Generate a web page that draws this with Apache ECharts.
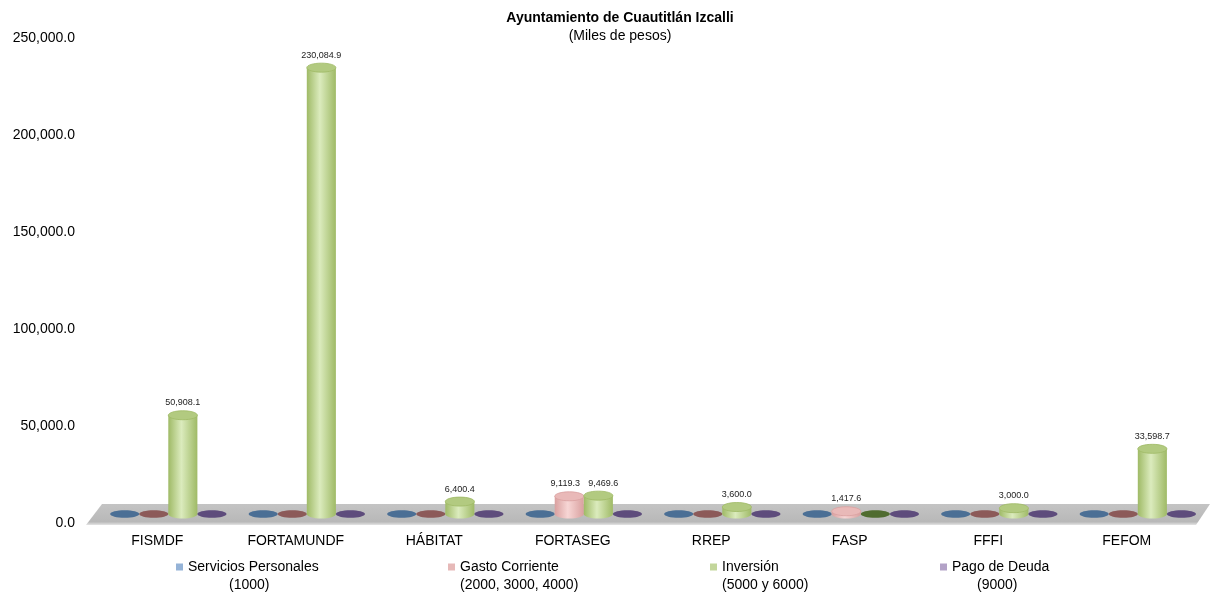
<!DOCTYPE html>
<html>
<head>
<meta charset="utf-8">
<script src="https://cdn.jsdelivr.net/npm/echarts@6/dist/echarts.min.js"></script>
<style>
	html, body { margin: 0; padding: 0; background: #fff; }
	#chart { width: 1210px; height: 592px; }
</style>
</head>
<body>
<div id="chart"></div>
<script>
// Chart data
const categories = ["FISMDF", "FORTAMUNDF", "HÁBITAT", "FORTASEG", "RREP", "FASP", "FFFI", "FEFOM"];
const serviciosPersonales = [0, 0, 0, 0, 0, 0, 0, 0];
const gastoCorriente = [0, 0, 0, 9119.3, 0, 1417.6, 0, 0];
const inversion = [50908.1, 230084.9, 6400.4, 9469.6, 3600.0, 0, 3000.0, 33598.7];
const pagoDeuda = [0, 0, 0, 0, 0, 0, 0, 0];
const seriesNames = ["Servicios Personales", "Gasto Corriente", "Inversión", "Pago de Deuda"];
const seriesCodes = ["(1000)", "(2000, 3000, 4000)", "(5000 y 6000)", "(9000)"];

const fontFamily = '"Liberation Sans", Arial, sans-serif';
const dataSets = [serviciosPersonales, gastoCorriente, inversion, pagoDeuda];

function fmt(v) {
	return v.toLocaleString("en-US", { minimumFractionDigits: 1, maximumFractionDigits: 1 });
}

// colours per series: legend swatch, flat disc (zero value), cylinder body
const palette = [
	{ legend: "#95b3d7", flat: "#4b6f95", dark: "#7f9fc6", light: "#c6d8ee", top: "#a9c2e0" },
	{ legend: "#e6b9b8", flat: "#8c5a59", dark: "#d9a09f", light: "#f7d6d5", top: "#e9b9b8" },
	{ legend: "#c3d69b", flat: "#506c30", dark: "#9fba66", light: "#dbebbd", top: "#b2ca80" },
	{ legend: "#b3a2c7", flat: "#5e4c7c", dark: "#9683ae", light: "#d2c6e0", top: "#b3a2c7" },
];

// nudge a value label sideways when a neighbouring bar in the same category also has a label
function labelShift(idx, cat) {
	const left = idx > 0 && dataSets[idx - 1][cat];
	const right = idx < dataSets.length - 1 && dataSets[idx + 1][cat];
	if (left && !right) return 5;
	if (right && !left) return -4;
	return 0;
}

function makeRender(idx) {
	const c = palette[idx];
	return function (params, api) {
		const cat = api.value(0);
		const val = api.value(1);
		const band = api.size([1, 0])[0];
		const w = band * 0.21;
		const base = api.coord([cat, 0]);
		const top = api.coord([cat, val]);
		const depth = 9;
		const cx = base[0] + (idx - 1.12) * w;
		const yb = base[1] - depth;
		const yt = top[1] - depth;
		const rx = w / 2;
		if (!val) {
			return {
				type: "ellipse",
				shape: { cx: cx, cy: yb, rx: rx, ry: 3.8 },
				style: { fill: c.flat },
			};
		}
		const bodyFill = {
			type: "linear", x: 0, y: 0, x2: 1, y2: 0,
			colorStops: [
				{ offset: 0, color: c.dark },
				{ offset: 0.45, color: c.light },
				{ offset: 1, color: c.dark },
			],
		};
		return {
			type: "group",
			children: [
				{ type: "ellipse", shape: { cx: cx, cy: yb, rx: rx, ry: 4.5 }, style: { fill: bodyFill } },
				{ type: "rect", shape: { x: cx - rx, y: yt, width: w, height: yb - yt }, style: { fill: bodyFill } },
				{
					type: "ellipse",
					shape: { cx: cx, cy: yt, rx: rx, ry: 4.5 },
					style: { fill: c.top, stroke: c.dark, lineWidth: 0.8 },
				},
				{
					type: "text",
					style: {
						text: fmt(val),
						x: cx + labelShift(idx, cat),
						y: yt - 8,
						align: "center",
						verticalAlign: "bottom",
						font: "9px " + fontFamily,
						fill: "#222",
					},
				},
			],
		};
	};
}

// 3D-looking floor under the bars
function renderFloor(params, api) {
	const cs = params.coordSys;
	const y0 = cs.y + cs.height;
	const x0 = cs.x;
	const x1 = cs.x + cs.width;
	return {
		type: "polygon",
		shape: { points: [[x0 - 2, y0 + 2], [x1, y0 + 2], [x1 + 14, y0 - 19], [x0 + 14, y0 - 19]] },
		style: {
			fill: {
				type: "linear", x: 0, y: 0, x2: 0, y2: 1,
				colorStops: [
					{ offset: 0, color: "#c4c4c4" },
					{ offset: 0.85, color: "#b8b8b8" },
					{ offset: 1, color: "#e4e4e4" },
				],
			},
		},
	};
}

const series = [
	{
		type: "custom",
		name: "floor",
		renderItem: renderFloor,
		data: [[0, 0]],
		z: 1,
		silent: true,
	},
];
dataSets.forEach(function (arr, i) {
	series.push({
		type: "custom",
		name: seriesNames[i],
		renderItem: makeRender(i),
		itemStyle: { color: palette[i].legend },
		data: arr.map(function (v, k) { return [k, v]; }),
		encode: { x: 0, y: 1 },
		z: 2,
	});
});

const legendLeft = [176, 448, 710, 940];
const line2Pad = [41, 0, 0, 25];
const legends = seriesNames.map(function (name, i) {
	return {
		data: [name],
		left: legendLeft[i],
		top: 542,
		padding: 0,
		icon: "rect",
		itemWidth: 7,
		itemHeight: 7,
		itemGap: 6,
		selectedMode: false,
		formatter: function (n) {
			return "{e| }\n{a|" + n + "}\n{b|" + seriesCodes[i] + "}";
		},
		textStyle: {
			fontFamily: fontFamily,
			fontSize: 14,
			color: "#000",
			rich: {
				e: { fontSize: 14, lineHeight: 18 },
				a: { fontSize: 14, lineHeight: 18, color: "#000" },
				b: { fontSize: 14, lineHeight: 18, color: "#000", padding: [0, 0, 0, line2Pad[i]] },
			},
		},
	};
});

const chart = echarts.init(document.getElementById("chart"), null, { renderer: "canvas" });
chart.setOption({
	animation: false,
	backgroundColor: "#fff",
	title: {
		text: "Ayuntamiento de Cuautitlán Izcalli",
		subtext: "(Miles de pesos)",
		left: 620,
		textAlign: "center",
		top: 10,
		padding: 0,
		itemGap: 2,
		textStyle: { fontFamily: fontFamily, fontSize: 14, fontWeight: "bold", color: "#000", lineHeight: 16 },
		subtextStyle: { fontFamily: fontFamily, fontSize: 14, color: "#000", lineHeight: 16 },
	},
	legend: legends,
	grid: { left: 88, right: 14, top: 38, bottom: 69 },
	xAxis: {
		type: "category",
		data: categories,
		axisLine: { show: false },
		axisTick: { show: false },
		axisLabel: { margin: 11, fontFamily: fontFamily, fontSize: 14, color: "#000" },
		splitLine: { show: false },
	},
	yAxis: {
		type: "value",
		min: 0,
		max: 250000,
		interval: 50000,
		axisLine: { show: false },
		axisTick: { show: false },
		splitLine: { show: false },
		axisLabel: {
			margin: 13,
			fontFamily: fontFamily,
			fontSize: 14,
			color: "#000",
			formatter: function (v) { return fmt(v); },
		},
	},
	series: series,
});
</script>
</body>
</html>
